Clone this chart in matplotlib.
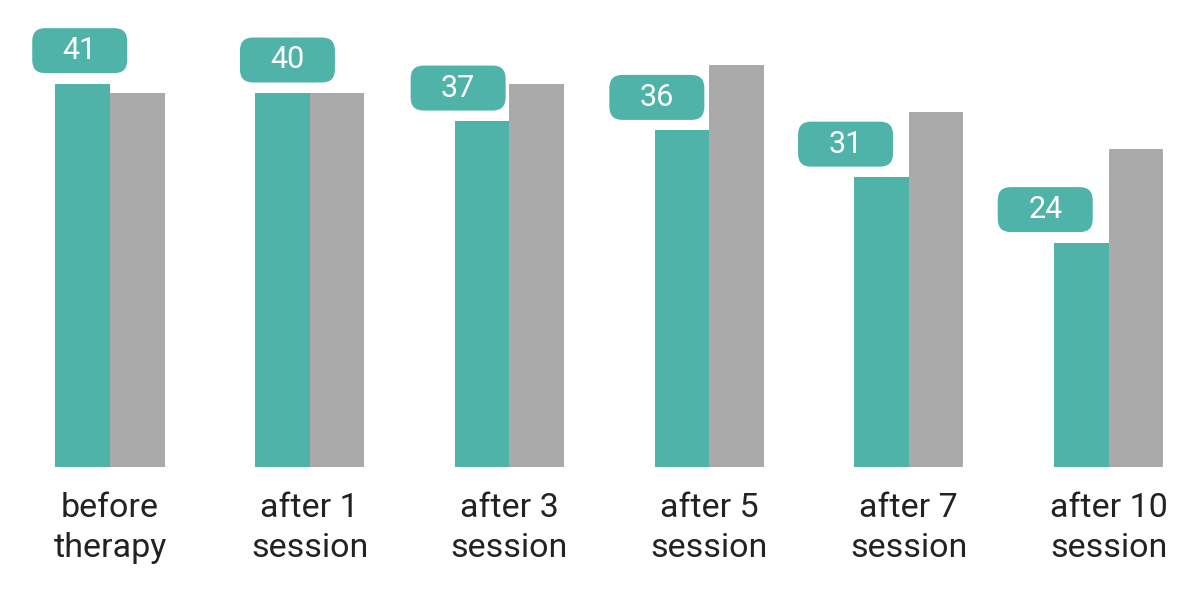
import numpy as np
import matplotlib.pyplot as plt
from matplotlib.patches import FancyBboxPatch
from matplotlib import transforms

# datos
etapas = ["before\ntherapy", "after 1\nsession", "after 3\nsession",
          "after 5\nsession", "after 7\nsession", "after 10\nsession"]
serie_verde = [41, 40, 37, 36, 31, 24]
serie_gris = [40, 40, 41, 43, 38, 34]

# desplazamiento horizontal de cada etiqueta (pulgadas, solo maquetación)
desplaz = [-0.03, 0.05, -0.24, -0.25, -0.36, -0.36]

verde = "#4fb3a9"
gris = "#aaaaaa"

plt.rcParams['font.family'] = ['Roboto', 'DejaVu Sans']

fig = plt.figure(figsize=(12, 6.02), dpi=100)
ax = fig.add_axes([0, (602 - 467) / 602, 1, 467 / 602])

x = np.arange(len(etapas))
ancho = 0.273
ax.bar(x - ancho / 2, serie_verde, width=ancho, color=verde)
ax.bar(x + ancho / 2, serie_gris, width=ancho, color=gris)

paso = 199.7
ax.set_xlim(-110 / paso, (1200 - 110) / paso)
ax.set_ylim(0, 467 / 9.35)

# etiquetas redondeadas sobre las barras verdes
for xi, v, dx in zip(x, serie_verde, desplaz):
    tr = fig.dpi_scale_trans + transforms.ScaledTranslation(
        xi - ancho / 2, v, ax.transData)
    caja = FancyBboxPatch((dx - 0.475 + 0.13, 0.105 + 0.13), 0.95 - 0.26, 0.45 - 0.26,
                          boxstyle="round,pad=0.13",
                          fc=verde, ec="none", transform=tr, clip_on=False)
    ax.add_patch(caja)
    ax.text(dx, 0.33, str(v), transform=tr, ha="center", va="center",
            color="white", fontsize=22)

ax.set_xticks(x)
ax.set_xticklabels(etapas, fontsize=24.5, color="#222222", linespacing=1.32)
ax.tick_params(axis="x", length=0, pad=18)
ax.set_yticks([])
for s in ax.spines.values():
    s.set_visible(False)

fig.savefig("out.png", dpi=100)
